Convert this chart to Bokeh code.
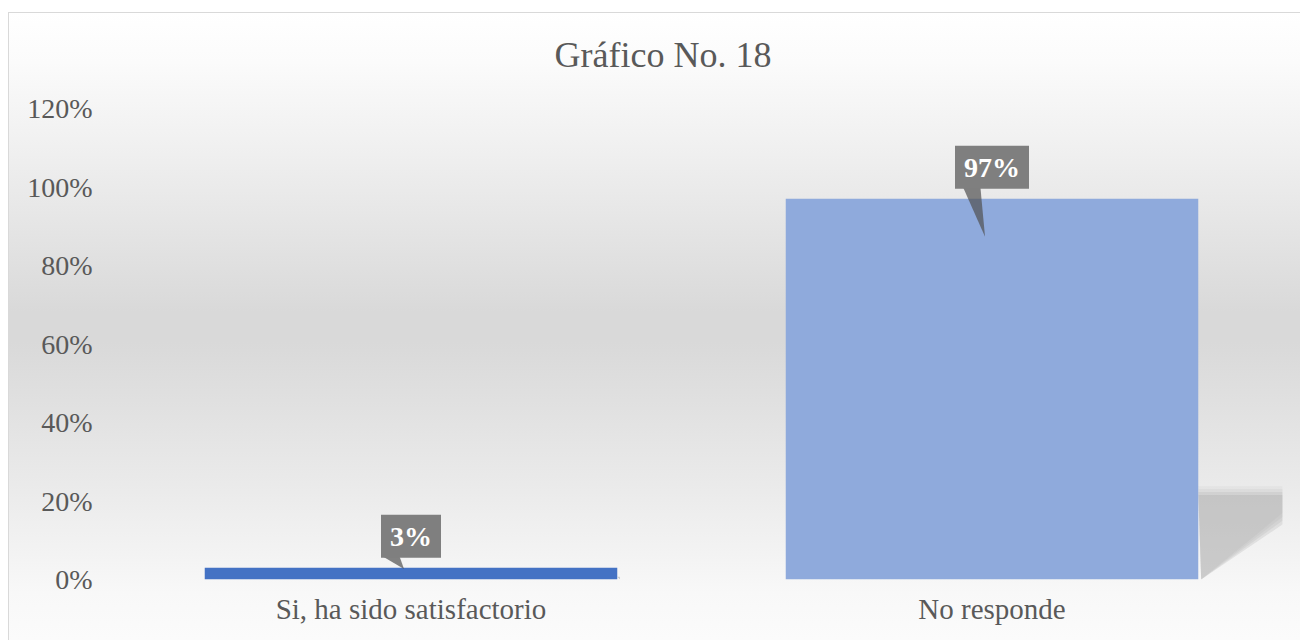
from bokeh.plotting import figure
from bokeh.models import FactorRange, Range1d, FixedTicker, NumeralTickFormatter, Label, Title
from bokeh.embed import file_html
from bokeh.resources import INLINE

# ---- data ----
categories = ["Si, ha sido satisfactorio", "No responde"]
values = [0.03, 0.97]
value_labels = ["3%", "97%"]
bar_colors = ["#4472C4", "#8FAADC"]
y_ticks = [0, 0.2, 0.4, 0.6, 0.8, 1.0, 1.2]
title_text = "Gráfico No. 18"

FONT = "Liberation Serif"
TXT = "#595959"
W, H = 1292, 628
BAR_W = 0.71

p = figure(x_range=FactorRange(*categories), y_range=Range1d(0, 1.2), title=None,
           width=W, height=H, output_backend="svg", toolbar_location=None,
           min_border_left=112, min_border_right=18, min_border_top=96,
           min_border_bottom=61)

p.styles = {
    "margin-top": "12px",
    "margin-left": "8px",
    "background": "linear-gradient(to bottom, #ffffff 0px, #fbfbfb 50px, #eeeeee 150px, "
                  "#d9d9d9 300px, #d9d9d9 330px, #ebebeb 480px, #f8f8f8 580px, #fbfbfb 628px)",
    "box-shadow": "inset 1px 1px 0 #d9d9d9",
}
p.background_fill_alpha = 0
p.border_fill_alpha = 0
p.outline_line_color = None
p.xgrid.grid_line_color = None
p.ygrid.grid_line_color = None

# spacer between frame and title, then the title itself
p.add_layout(Title(text=" ", text_font_size="20px", standoff=0), "above")
p.add_layout(Title(text=title_text, text_font=FONT, text_font_size="36px",
                   text_font_style="normal", text_color=TXT, align="left",
                   offset=434, vertical_align="top", standoff=16), "above")

# numeric centers of the categorical bars (synthetic coordinates)
centers = [i + 0.5 for i in range(len(categories))]

# soft perspective shadows (derived from bar geometry / values)
sh_xs = [[c + BAR_W / 2, c + BAR_W / 2 + 0.15 * v, c + BAR_W / 2 + 0.15 * v, c + BAR_W / 2 + 0.005]
         for c, v in zip(centers, values)]
for top_k, right_k, alpha in [(0.245, 0.175, 0.06), (0.238, 0.165, 0.08),
                              (0.230, 0.155, 0.10), (0.222, 0.145, 0.14)]:
    ys = [[v * top_k, v * top_k, v * right_k, 0] for v in values]
    p.patches(sh_xs, ys, fill_color="#7a7a7a", fill_alpha=alpha, line_color=None)

# bars
p.vbar(x=categories, top=values, width=BAR_W, fill_color=bar_colors, line_color=None)

# callout pointers
ptr_xs = [[c - 0.05, c - 0.02, c - 0.012] for c in centers]
ptr_ys = [[v + 0.03, v + 0.03, v * 0.9] for v in values]
p.patches(ptr_xs, ptr_ys, fill_color="#505050", fill_alpha=0.7, line_color=None)

# data labels
for c, v, lab in zip(centers, values, value_labels):
    p.add_layout(Label(x=c, y=v, text=lab, text_align="center", text_baseline="bottom",
                       y_offset=10, text_font=FONT, text_font_size="28px",
                       text_font_style="bold", text_color="white",
                       background_fill_color="#7F7F7F", padding=(9, 6)))

# axes
p.yaxis.ticker = FixedTicker(ticks=y_ticks)
p.yaxis.formatter = NumeralTickFormatter(format="0%")
for ax in (p.xaxis, p.yaxis):
    ax.axis_line_color = None
    ax.major_tick_line_color = None
    ax.minor_tick_line_color = None
    ax.major_label_text_font = FONT
    ax.major_label_text_color = TXT
p.yaxis.major_label_text_font_size = "28px"
p.xaxis.major_label_text_font_size = "29px"
p.yaxis.major_label_standoff = 22
p.xaxis.major_label_standoff = 7

open("out.html", "w").write(file_html(p, INLINE))
